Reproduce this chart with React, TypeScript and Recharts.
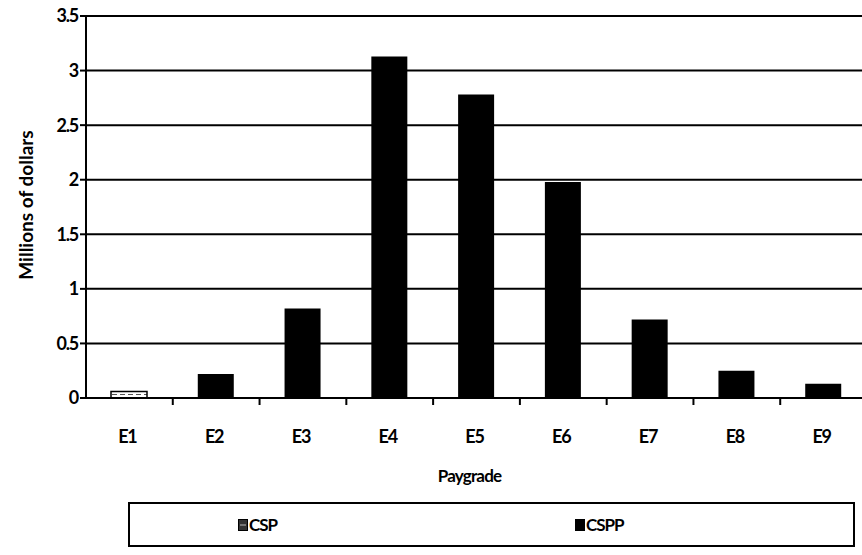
import { BarChart, Bar, XAxis, YAxis, CartesianGrid, Label } from "recharts"

const grades = ["E1", "E2", "E3", "E4", "E5", "E6", "E7", "E8", "E9"]
const cspValues = [0.06, 0, 0, 0, 0, 0, 0, 0, 0]
const csppValues = [0, 0.22, 0.82, 3.13, 2.78, 1.98, 0.72, 0.25, 0.13]
const yTicks = [0, 0.5, 1, 1.5, 2, 2.5, 3, 3.5]

const font = "Lato, sans-serif"

const data = grades.map((g, i) => ({ grade: g, CSP: cspValues[i], CSPP: csppValues[i] }))

// plot is 781px wide over 9 categories, boundary ticks sit half a band right of centre
const HALF_BAND = 781 / 9 / 2

function GradeTick({ x, y, payload }: any) {
  return (
    <g>
      <text x={x - 2} y={y + 45} textAnchor="middle" fontSize={18} fontWeight="bold" fill="#000" fontFamily={font} letterSpacing={-1.2}>
        {payload.value}
      </text>
      <line x1={x + HALF_BAND} y1={y} x2={x + HALF_BAND} y2={y + 7} stroke="#000" strokeWidth={2} />
    </g>
  )
}

function LegendBox() {
  return (
    <div
      style={{
        position: "absolute",
        left: 128,
        top: 502,
        width: 723,
        height: 41,
        border: "2px solid #000",
        fontFamily: font,
        fontSize: 17,
        fontWeight: "bold",
        letterSpacing: -1,
      }}
    >
      <div style={{ position: "absolute", left: 108, top: 10, display: "flex", alignItems: "center" }}>
        <svg width={10} height={12} style={{ marginRight: 1 }}>
          <rect x={0.5} y={0.5} width={9} height={11} fill="#333" stroke="#000" />
          <line x1={2} y1={6} x2={8} y2={6} stroke="#bbb" strokeWidth={1} />
        </svg>
        <span>CSP</span>
      </div>
      <div style={{ position: "absolute", left: 445, top: 10, display: "flex", alignItems: "center" }}>
        <svg width={10} height={12} style={{ marginRight: 1 }}>
          <rect x={0} y={0} width={10} height={12} fill="#000" />
        </svg>
        <span>CSPP</span>
      </div>
    </div>
  )
}

export default function App() {
  return (
    <div
      style={{
        position: "absolute",
        left: 0,
        top: 0,
        width: 862,
        height: 555,
        overflow: "hidden",
        background: "#fff",
      }}
    >
      <BarChart
        width={880}
        height={488}
        data={data}
        margin={{ top: 16, right: 13, left: 0, bottom: 0 }}
        barSize={36}
      >
        <defs>
          <pattern id="cspFill" width="8" height="4" patternUnits="userSpaceOnUse">
            <rect width="8" height="4" fill="#fff" />
            <line x1="0" y1="2.5" x2="5" y2="2.5" stroke="#555" strokeWidth="1" />
          </pattern>
        </defs>
        <CartesianGrid vertical={false} stroke="#000" strokeWidth={2} />
        <XAxis
          dataKey="grade"
          height={90}
          axisLine={{ stroke: "#000", strokeWidth: 2 }}
          tickLine={false}
          tickSize={0}
          tickMargin={0}
          tick={<GradeTick />}
          interval={0}
        >
          <Label
            value="Paygrade"
            position="insideBottom"
            offset={6}
            dx={-7}
            fill="#000"
            fontSize={17}
            fontWeight="bold"
            letterSpacing={-0.8}
            fontFamily={font}
          />
        </XAxis>
        <YAxis
          width={86}
          domain={[0, 3.5]}
          ticks={yTicks}
          interval={0}
          axisLine={{ stroke: "#000", strokeWidth: 2 }}
          tickLine={{ stroke: "#000", strokeWidth: 2 }}
          tickSize={6}
          tickMargin={2}
          tick={{ fill: "#000", fontSize: 18, fontWeight: "bold", fontFamily: font, letterSpacing: -1.2 }}
        >
          <Label
            content={() => (
              <text
                x={25}
                y={205}
                transform="rotate(-90 25 205)"
                textAnchor="middle"
                dominantBaseline="central"
                fontSize={19}
                fontWeight="bold"
                fill="#000"
                fontFamily={font}
              >
                Millions of dollars
              </text>
            )}
          />
        </YAxis>
        <Bar dataKey="CSP" stackId="pay" fill="url(#cspFill)" stroke="#000" strokeWidth={1.5} isAnimationActive={false} />
        <Bar dataKey="CSPP" stackId="pay" fill="#000" isAnimationActive={false} />
      </BarChart>
      <LegendBox />
    </div>
  )
}
